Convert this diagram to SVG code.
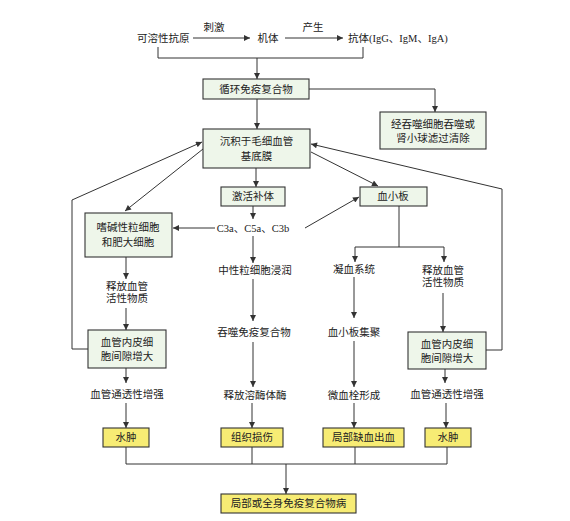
<svg xmlns="http://www.w3.org/2000/svg" width="570" height="521" viewBox="0 0 570 521">
<defs>
<marker id="ah" viewBox="0 0 10 10" refX="10" refY="5" markerWidth="8" markerHeight="6" markerUnits="userSpaceOnUse" orient="auto">
<path d="M0,0 L10,5 L0,10 z" fill="#333"/>
</marker>
<style>
.g rect{fill:#eef6ea;stroke:#333;stroke-width:1.1}
.y rect{fill:#f7ec74;stroke:#333;stroke-width:1.1}
text{font-family:"Liberation Serif","Noto Sans CJK SC",serif;font-size:10.5px;fill:#222;text-anchor:middle}
.c line,.c polyline{stroke:#333;stroke-width:1;fill:none}
.a{marker-end:url(#ah)}
</style>
</defs>
<rect width="570" height="521" fill="#fff"/>

<g id="top-texts">
<text x="137" y="42" style="text-anchor:start">可溶性抗原</text>
<text x="214" y="31">刺激</text>
<text x="268" y="42">机体</text>
<text x="313" y="31">产生</text>
<text x="348" y="42" style="text-anchor:start">抗体(IgG、IgM、IgA)</text>
</g>

<g id="n-circ" class="g"><rect x="203" y="79" width="106" height="20"/><text x="256" y="93">循环免疫复合物</text></g>
<g id="n-clear" class="g"><rect x="380" y="112" width="106" height="37"/><text x="433" y="128">经吞噬细胞吞噬或</text><text x="433" y="142">肾小球滤过清除</text></g>
<g id="n-depo" class="g"><rect x="203" y="129" width="107" height="39"/><text x="256.5" y="145">沉积于毛细血管</text><text x="256.5" y="160">基底膜</text></g>
<g id="n-comp" class="g"><rect x="221" y="187" width="64" height="19"/><text x="253" y="200">激活补体</text></g>
<g id="n-c3"><text x="253" y="232">C3a、C5a、C3b</text></g>
<g id="n-baso" class="g"><rect x="85" y="213" width="87" height="44"/><text x="128" y="231">嗜碱性粒细胞</text><text x="128" y="246">和肥大细胞</text></g>
<g id="n-plt" class="g"><rect x="360" y="187" width="67" height="19"/><text x="393" y="200">血小板</text></g>

<g id="n-l1"><text x="127" y="290">释放血管</text><text x="127" y="302">活性物质</text></g>
<g id="n-lbox" class="g"><rect x="88" y="330" width="78" height="38"/><text x="127" y="346">血管内皮细</text><text x="127" y="360">胞间隙增大</text></g>
<g id="n-l2"><text x="127" y="398">血管通透性增强</text></g>
<g id="n-lend" class="y"><rect x="103" y="428" width="46" height="19"/><text x="126" y="441">水肿</text></g>

<g id="n-m1"><text x="255" y="274">中性粒细胞浸润</text></g>
<g id="n-m2"><text x="254" y="336">吞噬免疫复合物</text></g>
<g id="n-m3"><text x="255" y="399">释放溶酶体酶</text></g>
<g id="n-mend" class="y"><rect x="221" y="428" width="62" height="19"/><text x="252" y="441">组织损伤</text></g>

<g id="n-r1"><text x="354" y="273">凝血系统</text></g>
<g id="n-r2"><text x="354" y="336">血小板集聚</text></g>
<g id="n-r3"><text x="354" y="399">微血栓形成</text></g>
<g id="n-rend" class="y"><rect x="323" y="428" width="81" height="19"/><text x="363.5" y="441">局部缺血出血</text></g>

<g id="n-rr1"><text x="443" y="274">释放血管</text><text x="443" y="286">活性物质</text></g>
<g id="n-rbox" class="g"><rect x="408" y="332" width="78" height="37"/><text x="447" y="348">血管内皮细</text><text x="447" y="362">胞间隙增大</text></g>
<g id="n-rr2"><text x="447" y="398">血管通透性增强</text></g>
<g id="n-rrend" class="y"><rect x="425" y="428" width="46" height="19"/><text x="448" y="441">水肿</text></g>

<g id="n-final" class="y"><rect x="221" y="494" width="135" height="19"/><text x="288.5" y="507">局部或全身免疫复合物病</text></g>

<g id="connectors" class="c">
<line class="a" x1="193" y1="38" x2="250" y2="38"/>
<line class="a" x1="285" y1="38" x2="343" y2="38"/>
<polyline points="158,47 158,58 363,58 363,47"/>
<line class="a" x1="257" y1="58" x2="257" y2="79"/>
<polyline class="a" points="309,89 435,89 435,112"/>
<line class="a" x1="257" y1="99" x2="257" y2="129"/>
<line class="a" x1="256" y1="168" x2="256" y2="187"/>
<line class="a" x1="253" y1="206" x2="253" y2="219"/>
<line class="a" x1="215" y1="228" x2="173" y2="228"/>
<line class="a" x1="203" y1="149" x2="125" y2="211"/>
<polyline class="a" points="88,349 72,349 72,200 202,142"/>
<line class="a" x1="126" y1="257" x2="126" y2="279"/>
<line class="a" x1="126" y1="308" x2="126" y2="330"/>
<line class="a" x1="126" y1="368" x2="126" y2="383"/>
<line class="a" x1="126" y1="403" x2="126" y2="428"/>
<line class="a" x1="253" y1="236" x2="253" y2="263"/>
<line class="a" x1="253" y1="279" x2="253" y2="321"/>
<line class="a" x1="253" y1="342" x2="253" y2="387"/>
<line class="a" x1="252" y1="403" x2="252" y2="428"/>
<line class="a" x1="305" y1="228" x2="359" y2="197"/>
<line class="a" x1="311" y1="152" x2="378" y2="186"/>
<line x1="399" y1="206" x2="399" y2="247"/>
<polyline class="a" points="399,247 355,247 355,262"/>
<polyline class="a" points="399,247 444,247 444,262"/>
<line class="a" x1="354" y1="277" x2="354" y2="318"/>
<line class="a" x1="354" y1="341" x2="354" y2="387"/>
<line class="a" x1="354" y1="403" x2="354" y2="428"/>
<line class="a" x1="443" y1="293" x2="443" y2="332"/>
<polyline class="a" points="486,350 502,350 502,189 311,144"/>
<line class="a" x1="445" y1="369" x2="445" y2="383"/>
<line class="a" x1="446" y1="403" x2="446" y2="428"/>
<line x1="126" y1="447" x2="126" y2="464"/>
<line x1="252" y1="447" x2="252" y2="464"/>
<line x1="355" y1="447" x2="355" y2="464"/>
<line x1="447" y1="447" x2="447" y2="464"/>
<line x1="126" y1="464" x2="447" y2="464"/>
<line class="a" x1="286" y1="464" x2="286" y2="494"/>
</g>
</svg>
